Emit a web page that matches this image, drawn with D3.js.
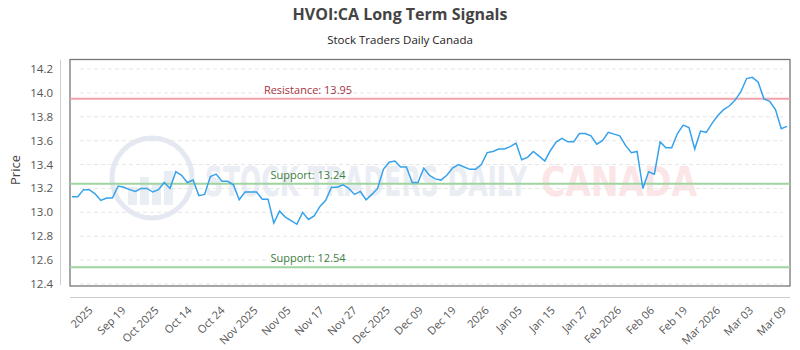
<!DOCTYPE html>
<html>
<head>
<meta charset="utf-8">
<script src="https://cdn.jsdelivr.net/npm/d3@7"></script>
<style>
	body { margin: 0; background: #fff; }
	svg { display: block; font-family: "Open Sans", sans-serif; }
</style>
</head>
<body>
<div id="graphic"></div>
<script>
// closing prices, one per trading day
var prices = [
	13.13, 13.13, 13.19, 13.19, 13.155, 13.10, 13.12, 13.12, 13.22, 13.21,
	13.19, 13.175, 13.20, 13.20, 13.17, 13.19, 13.25, 13.20, 13.34, 13.31,
	13.25, 13.27, 13.14, 13.15, 13.30, 13.32, 13.26, 13.26, 13.23, 13.105,
	13.17, 13.17, 13.17, 13.11, 13.11, 12.91, 13.01, 12.96, 12.93, 12.90,
	13.00, 12.94, 12.97, 13.05, 13.10, 13.21, 13.21, 13.23, 13.20, 13.15,
	13.175, 13.105, 13.15, 13.20, 13.36, 13.42, 13.43, 13.38, 13.38, 13.25,
	13.25, 13.37, 13.31, 13.28, 13.27, 13.31, 13.37, 13.40, 13.38, 13.36,
	13.36, 13.40, 13.50, 13.51, 13.53, 13.53, 13.55, 13.58, 13.44, 13.46,
	13.51, 13.47, 13.43, 13.52, 13.59, 13.62, 13.59, 13.59, 13.66, 13.66,
	13.64, 13.57, 13.60, 13.67, 13.655, 13.64, 13.56, 13.50, 13.51, 13.20,
	13.34, 13.32, 13.59, 13.54, 13.54, 13.66, 13.73, 13.71, 13.53, 13.68,
	13.67, 13.745, 13.81, 13.86, 13.89, 13.94, 14.01, 14.12, 14.13, 14.09,
	13.95, 13.93, 13.86, 13.70, 13.72
];

var xLabels = ["2025", "Sep 19", "Oct 2025", "Oct 14", "Oct 24", "Nov 2025", "Nov 05",
	"Nov 17", "Nov 27", "Dec 2025", "Dec 09", "Dec 19", "2026", "Jan 05", "Jan 15",
	"Jan 27", "Feb 2026", "Feb 06", "Feb 19", "Mar 2026", "Mar 03", "Mar 09"];

var yTicks = [12.4, 12.6, 12.8, 13.0, 13.2, 13.4, 13.6, 13.8, 14.0, 14.2];

var levels = [
	{ name: "Resistance", value: 13.95, kind: "res" },
	{ name: "Support", value: 13.24, kind: "sup" },
	{ name: "Support", value: 12.54, kind: "sup" }
];

var width = 800, height = 350;
var box = { left: 70, right: 790, top: 59.5, bottom: 286 };

var svg = d3.select("#graphic").append("svg")
	.attr("width", width)
	.attr("height", height);

var x = d3.scaleLinear().domain([0, prices.length - 1]).range([72, 787]);
var y = d3.scaleLinear().domain([12.4, 14.2]).range([284, 69]);

// labels are spread evenly along the bottom, last one on the last day
var xl = d3.scalePoint().domain(xLabels).range([x(3.7), x(prices.length - 1)]);

// title
svg.append("text")
	.attr("x", 400).attr("y", 20)
	.attr("text-anchor", "middle")
	.style("font-size", "16px").style("font-weight", "bold")
	.style("fill", "#444")
	.text("HVOI:CA Long Term Signals");

svg.append("text")
	.attr("x", 400).attr("y", 44)
	.attr("text-anchor", "middle")
	.style("font-size", "11.5px")
	.style("fill", "#222")
	.text("Stock Traders Daily Canada");

// watermark (faint, behind everything)
var wm = svg.append("g").attr("class", "watermark");
wm.append("circle")
	.attr("cx", 152).attr("cy", 178).attr("r", 40)
	.style("fill", "none").style("stroke", "#e3e8f1").style("stroke-width", 5);
[[128, 18], [140, 28], [152, 22], [164, 34]].forEach(function(b) {
	wm.append("rect")
		.attr("x", b[0]).attr("y", 205 - b[1])
		.attr("width", 9).attr("height", b[1])
		.style("fill", "#e9edf4");
});
wm.append("text")
	.attr("x", 205).attr("y", 196)
	.attr("textLength", 322).attr("lengthAdjust", "spacingAndGlyphs")
	.style("font-size", "40px").style("font-weight", "bold")
	.style("font-family", "'DejaVu Sans'")
	.style("fill", "#eaedf3")
	.text("STOCK TRADERS DAILY");
wm.append("text")
	.attr("x", 541).attr("y", 196)
	.attr("textLength", 156).attr("lengthAdjust", "spacingAndGlyphs")
	.style("font-size", "40px").style("font-weight", "bold")
	.style("font-family", "'DejaVu Sans'")
	.style("fill", "#fce5e7")
	.text("CANADA");

// grid
svg.append("g")
	.selectAll("line")
	.data(yTicks)
	.enter()
	.append("line")
	.attr("x1", 80).attr("x2", 783)
	.attr("y1", function(d) { return y(d); })
	.attr("y2", function(d) { return y(d); })
	.style("stroke", "#e6e6e6")
	.style("stroke-dasharray", "4,3");

// plot frame
svg.append("rect")
	.attr("x", box.left).attr("y", box.top)
	.attr("width", box.right - box.left).attr("height", box.bottom - box.top)
	.style("fill", "none").style("stroke", "#777").style("stroke-width", 1.3);

// y axis
var yAxis = svg.append("g").attr("class", "y axis");
yAxis.append("line")
	.attr("x1", 60.5).attr("x2", 60.5).attr("y1", 60).attr("y2", 285)
	.style("stroke", "#ccc");
yAxis.selectAll("text")
	.data(yTicks)
	.enter()
	.append("text")
	.attr("x", 53)
	.attr("y", function(d) { return y(d); })
	.attr("dy", "0.35em")
	.attr("text-anchor", "end")
	.style("font-size", "11.5px")
	.style("fill", "#555")
	.text(function(d) { return d3.format(".1f")(d); });

svg.append("text")
	.attr("transform", "translate(20,170) rotate(-90)")
	.attr("text-anchor", "middle")
	.style("font-size", "13px")
	.style("fill", "#444")
	.text("Price");

// x axis
var xAxis = svg.append("g").attr("class", "x axis");
xAxis.append("line")
	.attr("x1", box.left).attr("x2", box.right).attr("y1", 297.5).attr("y2", 297.5)
	.style("stroke", "#ccc");
xAxis.selectAll("text")
	.data(xLabels)
	.enter()
	.append("text")
	.attr("transform", function(d) { return "translate(" + xl(d) + ",311) rotate(-45)"; })
	.attr("text-anchor", "end")
	.style("font-size", "11px")
	.style("fill", "#555")
	.text(function(d) { return d; });

// support / resistance
var lv = svg.append("g")
	.selectAll("g")
	.data(levels)
	.enter()
	.append("g");

lv.append("line")
	.attr("x1", box.left).attr("x2", box.right)
	.attr("y1", function(d) { return y(d.value); })
	.attr("y2", function(d) { return y(d.value); })
	.style("stroke", function(d) { return d.kind == "res" ? "#f2a2ab" : "#9fd49f"; })
	.style("stroke-width", 2);

lv.append("text")
	.attr("x", 308)
	.attr("y", function(d) { return y(d.value) - 5; })
	.attr("text-anchor", "middle")
	.style("font-size", "11px")
	.style("fill", function(d) { return d.kind == "res" ? "#a8333f" : "#3d7d3d"; })
	.text(function(d) { return d.name + ": " + d.value.toFixed(2); });

// price line
var line = d3.line()
	.x(function(d, i) { return x(i); })
	.y(function(d) { return y(d); });

svg.append("path")
	.datum(prices)
	.attr("d", line)
	.style("fill", "none")
	.style("stroke", "#36a2eb")
	.style("stroke-width", 1.5);
</script>
</body>
</html>
